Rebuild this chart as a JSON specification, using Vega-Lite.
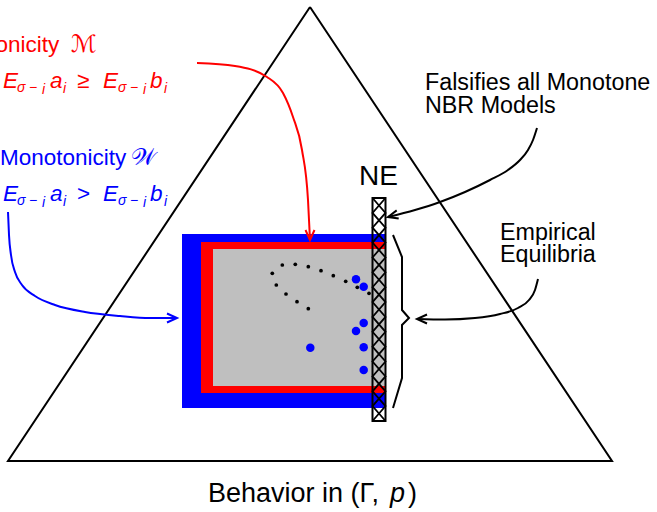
{
  "$schema": "https://vega.github.io/schema/vega-lite/v6.json",
  "width": 657,
  "height": 512,
  "autosize": "none",
  "padding": 0,
  "background": "white",
  "config": {"view": {"stroke": null}},
  "datasets": {
    "triangle": [
      {"i": 0, "x": 310, "y": 7},
      {"i": 1, "x": 612, "y": 461},
      {"i": 2, "x": 8, "y": 461},
      {"i": 3, "x": 310, "y": 7}
    ],
    "regions": [
      {"group": "Monotonicity 𝒲", "x": 182, "x2": 386, "y": 234, "y2": 408},
      {"group": "Monotonicity ℳ", "x": 201, "x2": 386, "y": 242, "y2": 393},
      {"group": "Observed", "x": 213, "x2": 386, "y": 249, "y2": 386}
    ],
    "bar": [
      {"name": "NE", "x": 372.5, "x2": 385.5, "y": 198, "y2": 421}
    ],
    "hatch": [
      {"s": "A", "i": 0, "x": 372.5, "y": 198}, {"s": "A", "i": 1, "x": 385.5, "y": 212.9},
      {"s": "A", "i": 2, "x": 372.5, "y": 227.7}, {"s": "A", "i": 3, "x": 385.5, "y": 242.6},
      {"s": "A", "i": 4, "x": 372.5, "y": 257.5}, {"s": "A", "i": 5, "x": 385.5, "y": 272.3},
      {"s": "A", "i": 6, "x": 372.5, "y": 287.2}, {"s": "A", "i": 7, "x": 385.5, "y": 302.1},
      {"s": "A", "i": 8, "x": 372.5, "y": 316.9}, {"s": "A", "i": 9, "x": 385.5, "y": 331.8},
      {"s": "A", "i": 10, "x": 372.5, "y": 346.7}, {"s": "A", "i": 11, "x": 385.5, "y": 361.5},
      {"s": "A", "i": 12, "x": 372.5, "y": 376.4}, {"s": "A", "i": 13, "x": 385.5, "y": 391.3},
      {"s": "A", "i": 14, "x": 372.5, "y": 406.1}, {"s": "A", "i": 15, "x": 385.5, "y": 421},
      {"s": "B", "i": 0, "x": 385.5, "y": 198}, {"s": "B", "i": 1, "x": 372.5, "y": 212.9},
      {"s": "B", "i": 2, "x": 385.5, "y": 227.7}, {"s": "B", "i": 3, "x": 372.5, "y": 242.6},
      {"s": "B", "i": 4, "x": 385.5, "y": 257.5}, {"s": "B", "i": 5, "x": 372.5, "y": 272.3},
      {"s": "B", "i": 6, "x": 385.5, "y": 287.2}, {"s": "B", "i": 7, "x": 372.5, "y": 302.1},
      {"s": "B", "i": 8, "x": 385.5, "y": 316.9}, {"s": "B", "i": 9, "x": 372.5, "y": 331.8},
      {"s": "B", "i": 10, "x": 385.5, "y": 346.7}, {"s": "B", "i": 11, "x": 372.5, "y": 361.5},
      {"s": "B", "i": 12, "x": 385.5, "y": 376.4}, {"s": "B", "i": 13, "x": 372.5, "y": 391.3},
      {"s": "B", "i": 14, "x": 385.5, "y": 406.1}, {"s": "B", "i": 15, "x": 372.5, "y": 421}
    ],
    "points": [
      {"kind": "model", "x": 272.3, "y": 273.3},
      {"kind": "model", "x": 282.3, "y": 265},
      {"kind": "model", "x": 295.3, "y": 264.3},
      {"kind": "model", "x": 308.3, "y": 266.7},
      {"kind": "model", "x": 321, "y": 270.7},
      {"kind": "model", "x": 333.3, "y": 275.7},
      {"kind": "model", "x": 345.7, "y": 281.3},
      {"kind": "model", "x": 357.3, "y": 287.3},
      {"kind": "model", "x": 369, "y": 293.3},
      {"kind": "model", "x": 276.3, "y": 285},
      {"kind": "model", "x": 286, "y": 294},
      {"kind": "model", "x": 297, "y": 301.7},
      {"kind": "model", "x": 308.3, "y": 308.7},
      {"kind": "data", "x": 356, "y": 279.3},
      {"kind": "data", "x": 363.7, "y": 286.7},
      {"kind": "data", "x": 363.7, "y": 323},
      {"kind": "data", "x": 356, "y": 331},
      {"kind": "data", "x": 310.3, "y": 347.7},
      {"kind": "data", "x": 363.7, "y": 347.3},
      {"kind": "data", "x": 363.7, "y": 370}
    ],
    "curves": [
      {"arrow": "M", "group": "Monotonicity ℳ", "x": 197, "y": 63},
      {"arrow": "M", "group": "Monotonicity ℳ", "x": 235, "y": 66},
      {"arrow": "M", "group": "Monotonicity ℳ", "x": 267, "y": 77},
      {"arrow": "M", "group": "Monotonicity ℳ", "x": 283, "y": 93},
      {"arrow": "M", "group": "Monotonicity ℳ", "x": 293, "y": 117},
      {"arrow": "M", "group": "Monotonicity ℳ", "x": 302, "y": 150},
      {"arrow": "M", "group": "Monotonicity ℳ", "x": 308, "y": 200},
      {"arrow": "M", "group": "Monotonicity ℳ", "x": 310, "y": 240},
      {"arrow": "W", "group": "Monotonicity 𝒲", "x": 8, "y": 212},
      {"arrow": "W", "group": "Monotonicity 𝒲", "x": 9, "y": 235},
      {"arrow": "W", "group": "Monotonicity 𝒲", "x": 11, "y": 255},
      {"arrow": "W", "group": "Monotonicity 𝒲", "x": 15, "y": 272},
      {"arrow": "W", "group": "Monotonicity 𝒲", "x": 22, "y": 285},
      {"arrow": "W", "group": "Monotonicity 𝒲", "x": 35, "y": 296},
      {"arrow": "W", "group": "Monotonicity 𝒲", "x": 55, "y": 305},
      {"arrow": "W", "group": "Monotonicity 𝒲", "x": 85, "y": 312},
      {"arrow": "W", "group": "Monotonicity 𝒲", "x": 120, "y": 316},
      {"arrow": "W", "group": "Monotonicity 𝒲", "x": 150, "y": 318},
      {"arrow": "W", "group": "Monotonicity 𝒲", "x": 177, "y": 318},
      {"arrow": "F", "group": "Annotations", "x": 537, "y": 128},
      {"arrow": "F", "group": "Annotations", "x": 533, "y": 140},
      {"arrow": "F", "group": "Annotations", "x": 528, "y": 150},
      {"arrow": "F", "group": "Annotations", "x": 520, "y": 160},
      {"arrow": "F", "group": "Annotations", "x": 508, "y": 170},
      {"arrow": "F", "group": "Annotations", "x": 490, "y": 180},
      {"arrow": "F", "group": "Annotations", "x": 465, "y": 192},
      {"arrow": "F", "group": "Annotations", "x": 440, "y": 202},
      {"arrow": "F", "group": "Annotations", "x": 415, "y": 210},
      {"arrow": "F", "group": "Annotations", "x": 388, "y": 217},
      {"arrow": "E", "group": "Annotations", "x": 538, "y": 279},
      {"arrow": "E", "group": "Annotations", "x": 535, "y": 290},
      {"arrow": "E", "group": "Annotations", "x": 529, "y": 300},
      {"arrow": "E", "group": "Annotations", "x": 518, "y": 308},
      {"arrow": "E", "group": "Annotations", "x": 500, "y": 314},
      {"arrow": "E", "group": "Annotations", "x": 475, "y": 318},
      {"arrow": "E", "group": "Annotations", "x": 445, "y": 319.5},
      {"arrow": "E", "group": "Annotations", "x": 417, "y": 319}
    ],
    "heads": [
      {"arrow": "M", "group": "Monotonicity ℳ", "i": 0, "x": 305.5, "y": 230},
      {"arrow": "M", "group": "Monotonicity ℳ", "i": 1, "x": 310, "y": 240},
      {"arrow": "M", "group": "Monotonicity ℳ", "i": 2, "x": 314.5, "y": 230},
      {"arrow": "W", "group": "Monotonicity 𝒲", "i": 0, "x": 167, "y": 313.5},
      {"arrow": "W", "group": "Monotonicity 𝒲", "i": 1, "x": 177, "y": 318},
      {"arrow": "W", "group": "Monotonicity 𝒲", "i": 2, "x": 167, "y": 322.5},
      {"arrow": "F", "group": "Annotations", "i": 0, "x": 396.7, "y": 210.4},
      {"arrow": "F", "group": "Annotations", "i": 1, "x": 388, "y": 217},
      {"arrow": "F", "group": "Annotations", "i": 2, "x": 398.7, "y": 218.6},
      {"arrow": "E", "group": "Annotations", "i": 0, "x": 427, "y": 314.5},
      {"arrow": "E", "group": "Annotations", "i": 1, "x": 417, "y": 319},
      {"arrow": "E", "group": "Annotations", "i": 2, "x": 427, "y": 323.5}
    ],
    "brace": [
      {"i": 0, "x": 393, "y": 235},
      {"i": 1, "x": 402, "y": 257},
      {"i": 2, "x": 402, "y": 310},
      {"i": 3, "x": 409, "y": 318},
      {"i": 4, "x": 402, "y": 325},
      {"i": 5, "x": 402, "y": 378},
      {"i": 6, "x": 393, "y": 408}
    ],
    "texts": [
      {"role": "upright", "group": "Monotonicity ℳ", "x": -67, "y": 52, "text": "Monotonicity"},
      {"role": "script", "group": "Monotonicity ℳ", "x": 71, "y": 52, "text": "ℳ"},
      {"role": "italic", "group": "Monotonicity ℳ", "x": 3, "y": 88, "text": "E"},
      {"role": "sub", "group": "Monotonicity ℳ", "x": 17, "y": 92, "text": "σ"},
      {"role": "sub", "group": "Monotonicity ℳ", "x": 29, "y": 92, "text": "−"},
      {"role": "sub", "group": "Monotonicity ℳ", "x": 42, "y": 94, "text": "i"},
      {"role": "italic", "group": "Monotonicity ℳ", "x": 50, "y": 88, "text": "a"},
      {"role": "sub", "group": "Monotonicity ℳ", "x": 63, "y": 93, "text": "i"},
      {"role": "upright", "group": "Monotonicity ℳ", "x": 77, "y": 88, "text": "≥"},
      {"role": "italic", "group": "Monotonicity ℳ", "x": 103, "y": 88, "text": "E"},
      {"role": "sub", "group": "Monotonicity ℳ", "x": 118, "y": 92, "text": "σ"},
      {"role": "sub", "group": "Monotonicity ℳ", "x": 130, "y": 92, "text": "−"},
      {"role": "sub", "group": "Monotonicity ℳ", "x": 143, "y": 94, "text": "i"},
      {"role": "italic", "group": "Monotonicity ℳ", "x": 150, "y": 88, "text": "b"},
      {"role": "sub", "group": "Monotonicity ℳ", "x": 164, "y": 93, "text": "i"},
      {"role": "upright", "group": "Monotonicity 𝒲", "x": 0, "y": 165, "text": "Monotonicity"},
      {"role": "script", "group": "Monotonicity 𝒲", "x": 131, "y": 165, "text": "𝒲"},
      {"role": "italic", "group": "Monotonicity 𝒲", "x": 3, "y": 201, "text": "E"},
      {"role": "sub", "group": "Monotonicity 𝒲", "x": 17, "y": 205, "text": "σ"},
      {"role": "sub", "group": "Monotonicity 𝒲", "x": 29, "y": 205, "text": "−"},
      {"role": "sub", "group": "Monotonicity 𝒲", "x": 42, "y": 207, "text": "i"},
      {"role": "italic", "group": "Monotonicity 𝒲", "x": 50, "y": 201, "text": "a"},
      {"role": "sub", "group": "Monotonicity 𝒲", "x": 63, "y": 206, "text": "i"},
      {"role": "upright", "group": "Monotonicity 𝒲", "x": 77, "y": 201, "text": ">"},
      {"role": "italic", "group": "Monotonicity 𝒲", "x": 103, "y": 201, "text": "E"},
      {"role": "sub", "group": "Monotonicity 𝒲", "x": 118, "y": 205, "text": "σ"},
      {"role": "sub", "group": "Monotonicity 𝒲", "x": 130, "y": 205, "text": "−"},
      {"role": "sub", "group": "Monotonicity 𝒲", "x": 143, "y": 207, "text": "i"},
      {"role": "italic", "group": "Monotonicity 𝒲", "x": 150, "y": 201, "text": "b"},
      {"role": "sub", "group": "Monotonicity 𝒲", "x": 164, "y": 206, "text": "i"},
      {"role": "label", "group": "Annotations", "x": 425, "y": 90, "text": "Falsifies all Monotone"},
      {"role": "label", "group": "Annotations", "x": 425, "y": 113, "text": "NBR Models"},
      {"role": "label", "group": "Annotations", "x": 500, "y": 240, "text": "Empirical"},
      {"role": "label", "group": "Annotations", "x": 500, "y": 262, "text": "Equilibria"},
      {"role": "heading", "group": "Annotations", "x": 378.5, "y": 185, "text": "NE"},
      {"role": "axis", "group": "Annotations", "x": 208, "y": 502, "text": "Behavior in (Γ,"},
      {"role": "axis-italic", "group": "Annotations", "x": 390, "y": 502, "text": "p"},
      {"role": "axis", "group": "Annotations", "x": 408, "y": 502, "text": ")"}
    ]
  },
  "encoding": {
    "x": {"field": "x", "type": "quantitative", "scale": {"domain": [0, 657], "nice": false, "zero": false}, "axis": null},
    "y": {"field": "y", "type": "quantitative", "scale": {"domain": [0, 512], "nice": false, "zero": false, "reverse": true}, "axis": null}
  },
  "layer": [
    {
      "data": {"name": "regions"},
      "mark": {"type": "rect"},
      "encoding": {
        "x2": {"field": "x2"},
        "y2": {"field": "y2"},
        "color": {"field": "group", "type": "nominal", "legend": null,
          "scale": {"domain": ["Monotonicity ℳ", "Monotonicity 𝒲", "Annotations", "Observed"], "range": ["#FF0000", "#0000FF", "#000000", "#BFBFBF"]}}
      }
    },
    {
      "data": {"name": "triangle"},
      "mark": {"type": "line", "color": "black", "strokeWidth": 2, "strokeJoin": "miter"},
      "encoding": {"order": {"field": "i", "type": "quantitative"}}
    },
    {
      "data": {"name": "points"},
      "transform": [{"filter": "datum.kind == 'model'"}],
      "mark": {"type": "circle", "color": "black", "size": 14, "opacity": 1}
    },
    {
      "data": {"name": "points"},
      "transform": [{"filter": "datum.kind == 'data'"}],
      "mark": {"type": "circle", "color": "#0000FF", "size": 72, "opacity": 1}
    },
    {
      "data": {"name": "hatch"},
      "mark": {"type": "line", "color": "black", "strokeWidth": 1.8},
      "encoding": {"detail": {"field": "s"}, "order": {"field": "i", "type": "quantitative"}}
    },
    {
      "data": {"name": "bar"},
      "mark": {"type": "rect", "fill": null, "fillOpacity": 0, "stroke": "black", "strokeWidth": 2},
      "encoding": {"x2": {"field": "x2"}, "y2": {"field": "y2"}}
    },
    {
      "data": {"name": "brace"},
      "mark": {"type": "line", "color": "black", "strokeWidth": 2},
      "encoding": {"order": {"field": "i", "type": "quantitative"}}
    },
    {
      "data": {"name": "curves"},
      "mark": {"type": "line", "strokeWidth": 2, "interpolate": "monotone"},
      "encoding": {
        "detail": {"field": "arrow"},
        "color": {"field": "group", "type": "nominal", "legend": null,
          "scale": {"domain": ["Monotonicity ℳ", "Monotonicity 𝒲", "Annotations", "Observed"], "range": ["#FF0000", "#0000FF", "#000000", "#BFBFBF"]}}
      }
    },
    {
      "data": {"name": "heads"},
      "mark": {"type": "line", "strokeWidth": 2},
      "encoding": {
        "detail": {"field": "arrow"},
        "order": {"field": "i", "type": "quantitative"},
        "color": {"field": "group", "type": "nominal", "legend": null,
          "scale": {"domain": ["Monotonicity ℳ", "Monotonicity 𝒲", "Annotations", "Observed"], "range": ["#FF0000", "#0000FF", "#000000", "#BFBFBF"]}}
      }
    },
    {
      "data": {"name": "texts"},
      "transform": [{"filter": "datum.role == 'upright'"}],
      "mark": {"type": "text", "align": "left", "baseline": "alphabetic", "font": "Liberation Sans", "fontSize": 22.5},
      "encoding": {
        "text": {"field": "text"},
        "color": {"field": "group", "type": "nominal", "legend": null,
          "scale": {"domain": ["Monotonicity ℳ", "Monotonicity 𝒲", "Annotations", "Observed"], "range": ["#FF0000", "#0000FF", "#000000", "#BFBFBF"]}}
      }
    },
    {
      "data": {"name": "texts"},
      "transform": [{"filter": "datum.role == 'script'"}],
      "mark": {"type": "text", "align": "left", "baseline": "alphabetic", "font": "DejaVu Sans", "fontSize": 24},
      "encoding": {
        "text": {"field": "text"},
        "color": {"field": "group", "type": "nominal", "legend": null,
          "scale": {"domain": ["Monotonicity ℳ", "Monotonicity 𝒲", "Annotations", "Observed"], "range": ["#FF0000", "#0000FF", "#000000", "#BFBFBF"]}}
      }
    },
    {
      "data": {"name": "texts"},
      "transform": [{"filter": "datum.role == 'italic'"}],
      "mark": {"type": "text", "align": "left", "baseline": "alphabetic", "font": "Liberation Sans", "fontStyle": "italic", "fontSize": 22.5},
      "encoding": {
        "text": {"field": "text"},
        "color": {"field": "group", "type": "nominal", "legend": null,
          "scale": {"domain": ["Monotonicity ℳ", "Monotonicity 𝒲", "Annotations", "Observed"], "range": ["#FF0000", "#0000FF", "#000000", "#BFBFBF"]}}
      }
    },
    {
      "data": {"name": "texts"},
      "transform": [{"filter": "datum.role == 'sub'"}],
      "mark": {"type": "text", "align": "left", "baseline": "alphabetic", "font": "Liberation Sans", "fontStyle": "italic", "fontSize": 14},
      "encoding": {
        "text": {"field": "text"},
        "color": {"field": "group", "type": "nominal", "legend": null,
          "scale": {"domain": ["Monotonicity ℳ", "Monotonicity 𝒲", "Annotations", "Observed"], "range": ["#FF0000", "#0000FF", "#000000", "#BFBFBF"]}}
      }
    },
    {
      "data": {"name": "texts"},
      "transform": [{"filter": "datum.role == 'label'"}],
      "mark": {"type": "text", "align": "left", "baseline": "alphabetic", "font": "Liberation Sans", "fontSize": 23.3, "color": "black"},
      "encoding": {"text": {"field": "text"}}
    },
    {
      "data": {"name": "texts"},
      "transform": [{"filter": "datum.role == 'heading'"}],
      "mark": {"type": "text", "align": "center", "baseline": "alphabetic", "font": "Liberation Sans", "fontSize": 28, "color": "black"},
      "encoding": {"text": {"field": "text"}}
    },
    {
      "data": {"name": "texts"},
      "transform": [{"filter": "datum.role == 'axis'"}],
      "mark": {"type": "text", "align": "left", "baseline": "alphabetic", "font": "Liberation Sans", "fontSize": 27, "color": "black"},
      "encoding": {"text": {"field": "text"}}
    },
    {
      "data": {"name": "texts"},
      "transform": [{"filter": "datum.role == 'axis-italic'"}],
      "mark": {"type": "text", "align": "left", "baseline": "alphabetic", "font": "Liberation Sans", "fontStyle": "italic", "fontSize": 27, "color": "black"},
      "encoding": {"text": {"field": "text"}}
    }
  ]
}
